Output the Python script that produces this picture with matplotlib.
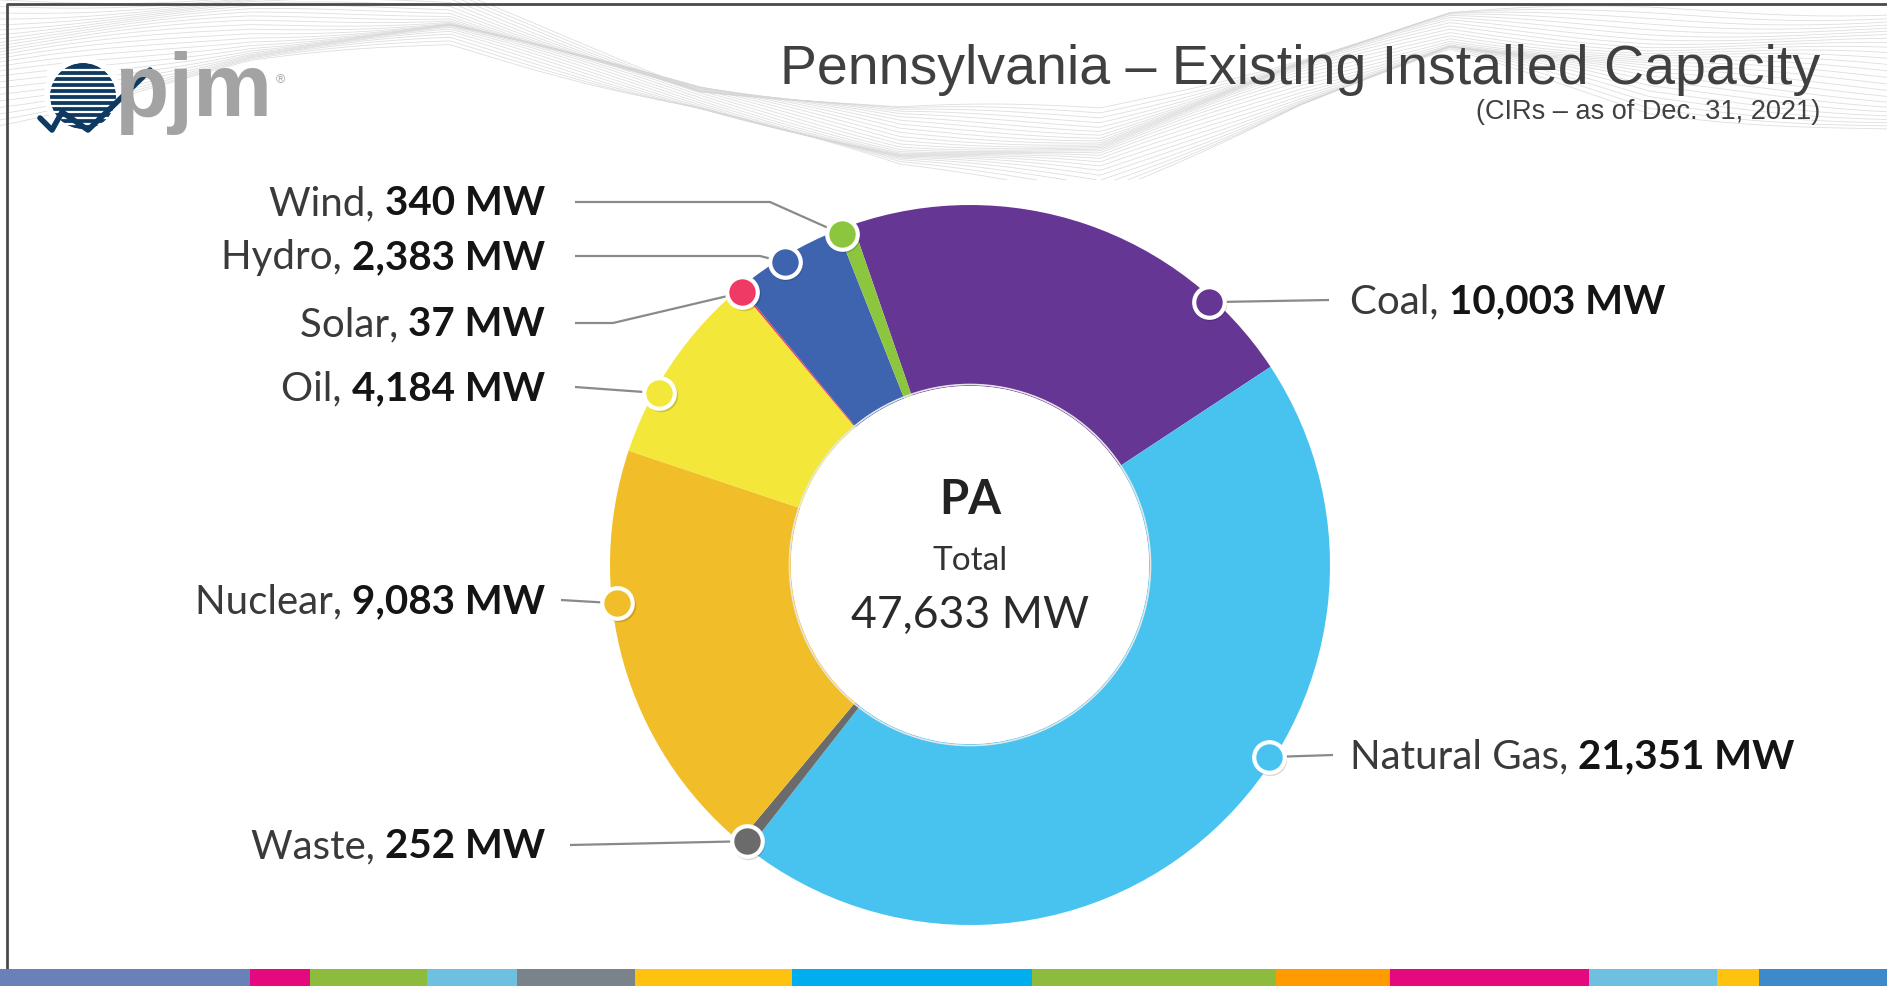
import matplotlib.pyplot as plt
from matplotlib.patches import Circle, Rectangle
import numpy as np

# Data
sources = ["Coal", "Natural Gas", "Waste", "Nuclear", "Oil", "Solar", "Hydro", "Wind"]
capacity_mw = [10003, 21351, 252, 9083, 4184, 37, 2383, 340]
colors = ["#663695", "#48C3F0", "#6B6B6B", "#F1BE29", "#F3E83A", "#EE3A64", "#3E64B0", "#8CC63F"]
region = "PA"
total_mw = 47633
title = "Pennsylvania \u2013 Existing Installed Capacity"
subtitle = "(CIRs \u2013 as of Dec. 31, 2021)"

# Layout (pixel coords, y measured from top)
W, H = 1887, 986
CX, CY = 970, 565
R_OUT, R_IN = 360, 179

# where along each wedge the marker dot sits (0 = clockwise start, 1 = end)
dot_frac = [0.81, 0.41, 0.5, 0.64, 0.33, 0.0, 0.45, 0.15]
# label: side, text x, text y, leader start x, elbow x (None = straight)
label_layout = {
    "Coal":        ("right", 1350, 300, 1329, None),
    "Natural Gas": ("right", 1350, 755, 1333, None),
    "Waste":       ("left", 545, 845, 570, None),
    "Nuclear":     ("left", 545, 600, 561, None),
    "Oil":         ("left", 545, 387, 575, None),
    "Solar":       ("left", 545, 323, 575, 613),
    "Hydro":       ("left", 545, 256, 575, 760),
    "Wind":        ("left", 545, 202, 575, 770),
}

LABEL_FONT = "Lato"
TITLE_FONT = ["Liberation Sans", "DejaVu Sans"]

fig = plt.figure(figsize=(W / 100, H / 100), dpi=100)
fig.patch.set_facecolor("white")
ax = fig.add_axes([0, 0, 1, 1])


def Y(y):
    return H - y


# Decorative wave ribbon in the header
xs = np.linspace(0, W, 700)
knots = [0, 250, 450, 700, 900, 1100, 1300, 1450, 1650, 1887]
base = np.interp(xs, knots, [60, 30, 20, 95, 140, 150, 80, 35, 60, 70])
spread = np.interp(xs, knots, [120, 70, 50, 20, 60, 80, 50, 40, 100, 120])
for k in range(26):
    yy = base + spread * (k / 25 - 0.5) + 6 * np.sin(xs / 90 + k * 0.3)
    yy = np.where(yy < 180, yy, np.nan)
    ax.plot(xs, Y(yy), color="#d6d6d6", lw=0.6, alpha=0.8, zorder=0)

# Donut
wedges, _ = ax.pie(capacity_mw, colors=colors, startangle=109, counterclock=False,
                   center=(CX, Y(CY)), radius=R_OUT,
                   wedgeprops=dict(width=R_OUT - R_IN, linewidth=0))
for w in wedges:
    w.set_zorder(2)

ax.set_xlim(0, W)
ax.set_ylim(0, H)
ax.set_aspect("equal")
ax.axis("off")

# soft edge around the hole
ax.add_patch(Circle((CX, Y(CY)), R_IN + 1.5, facecolor="none", edgecolor="#e6e6e6", lw=1.2, zorder=3))
ax.add_patch(Circle((CX, Y(CY)), R_IN, facecolor="white", edgecolor="none", zorder=3))

# Centre text
ax.text(CX, Y(500), region, ha="center", va="center", fontsize=34, fontweight="bold",
        color="#222222", family=LABEL_FONT, zorder=4)
ax.text(CX, Y(561), "Total", ha="center", va="center", fontsize=24,
        color="#333333", family=LABEL_FONT, zorder=4)
ax.text(CX, Y(615), f"{total_mw:,} MW", ha="center", va="center", fontsize=32,
        color="#2a2a2a", family=LABEL_FONT, zorder=4)

fig.canvas.draw()
renderer = fig.canvas.get_renderer()

# Dots, leader lines and labels
for w, name, val, col, frac in zip(wedges, sources, capacity_mw, colors, dot_frac):
    ang = np.deg2rad(w.theta2 - frac * (w.theta2 - w.theta1))
    r = R_OUT - 5
    dx, dy = CX + r * np.cos(ang), Y(CY) + r * np.sin(ang)

    side, tx, ty, lx, ex = label_layout[name]
    px = [lx]
    py = [Y(ty)]
    if ex is not None:
        px.append(ex)
        py.append(Y(ty))
    px.append(dx)
    py.append(dy)
    ax.plot(px, py, color="#8a8a8a", lw=1.6, zorder=4, solid_capstyle="butt")

    # dot with small shadow
    ax.plot(dx + 1.5, dy - 2, "o", ms=24, color="#000000", alpha=0.15, mec="none", zorder=5)
    ax.plot(dx, dy, "o", ms=22, color=col, mec="white", mew=3, zorder=6)

    base_y = Y(ty) - 13
    if side == "left":
        t2 = ax.text(tx, base_y, f"{val:,} MW", ha="right", va="baseline", fontsize=29,
                     fontweight="bold", color="#141414", family=LABEL_FONT)
        x0 = t2.get_window_extent(renderer).x0
        ax.text(x0, base_y, f"{name}, ", ha="right", va="baseline", fontsize=29,
                color="#3a3a3a", family=LABEL_FONT)
    else:
        t1 = ax.text(tx, base_y, f"{name}, ", ha="left", va="baseline", fontsize=29,
                     color="#3a3a3a", family=LABEL_FONT)
        x1 = t1.get_window_extent(renderer).x1
        ax.text(x1, base_y, f"{val:,} MW", ha="left", va="baseline", fontsize=29,
                fontweight="bold", color="#141414", family=LABEL_FONT)

# Title
ax.text(1820, Y(84), title, ha="right", va="baseline", fontsize=40,
        color="#404040", family=TITLE_FONT)
ax.text(1820, Y(119), subtitle, ha="right", va="baseline", fontsize=19.5,
        color="#404040", family=TITLE_FONT)

# Logo
ax.add_patch(Circle((83, Y(96)), 33, facecolor="#0E3A62", edgecolor="none", zorder=3))
for yy in np.arange(70, 126, 6):
    ax.plot([48, 118], [Y(yy), Y(yy)], color="white", lw=1.6, zorder=4)
ax.add_patch(Circle((83, Y(96)), 36, facecolor="none", edgecolor="white", lw=4, zorder=4))
ax.plot([40, 52, 62, 88, 150], [Y(118), Y(130), Y(112), Y(130), Y(70)], color="#0E3A62",
        lw=4, zorder=5, solid_capstyle="round")
ax.text(114, Y(116), "pjm", ha="left", va="baseline", fontsize=64, fontweight="bold",
        color="#A3A3A3", family="Liberation Sans", zorder=5)
ax.text(276, Y(80), "\u00ae", ha="left", va="center", fontsize=9, color="#A3A3A3",
        family="Liberation Sans")

# Frame
ax.plot([7, 7, W], [Y(969), Y(4), Y(4)], color="#4a4a4a", lw=2, zorder=6, clip_on=False)

# Bottom colour bar
bar_edges = [0, 250, 310, 427, 517, 635, 792, 1032, 1276, 1390, 1589, 1717, 1759, W]
bar_colors = ["#6A80B8", "#E4097E", "#8CBB3E", "#6DC0E0", "#7A838A", "#FFC20E", "#00AEEF",
              "#8CBB3E", "#FF9A00", "#E4097E", "#6DC0E0", "#FFC20E", "#3D8ACB"]
for x0, x1, c in zip(bar_edges[:-1], bar_edges[1:], bar_colors):
    ax.add_patch(Rectangle((x0, 0), x1 - x0, 17, facecolor=c, edgecolor="none", zorder=6))

fig.savefig("out.png", dpi=100, facecolor="white")
